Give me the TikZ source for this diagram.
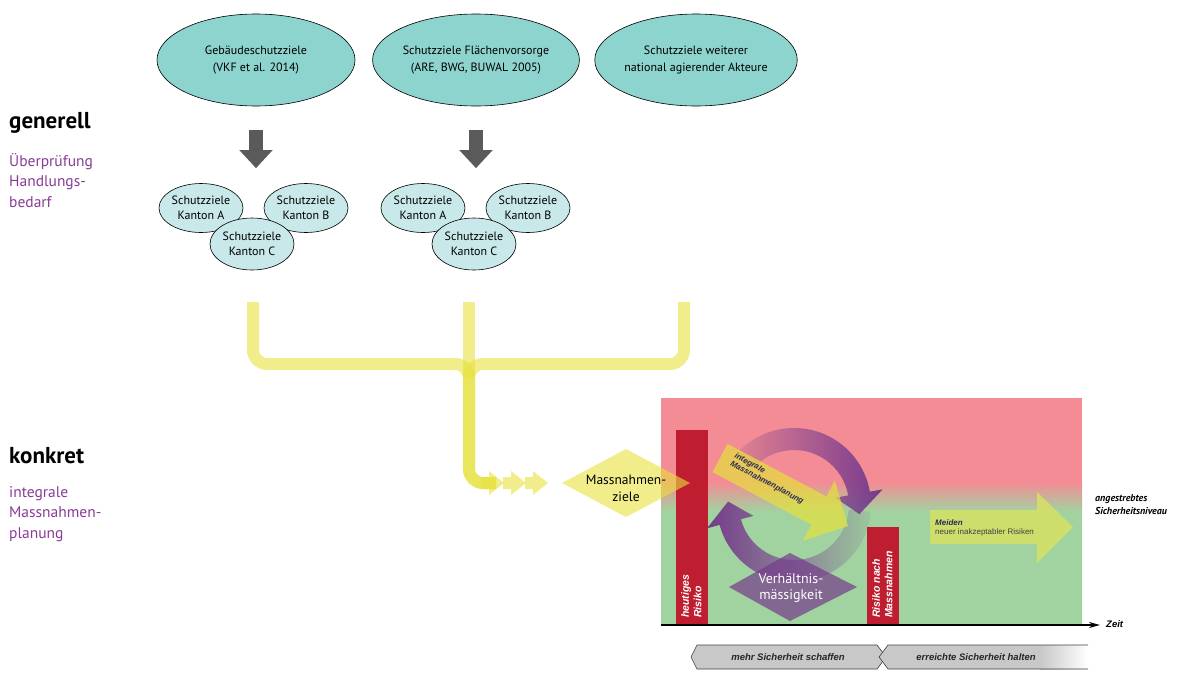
\documentclass[tikz,border=0pt]{standalone}
\usepackage{fontspec}
\setmainfont{PT Sans}
\newfontfamily\arialfont{Liberation Sans}
\usepackage{tikz}
\usetikzlibrary{shapes.geometric, arrows.meta, calc, fadings}
\definecolor{tealgoal}{RGB}{141, 211, 206}
\definecolor{kantonfill}{RGB}{200, 232, 234}
\definecolor{arrowgray}{RGB}{90,  90,  90}
\definecolor{pipeyellow}{RGB}{230, 225, 60}
\definecolor{riskpink}{RGB}{243, 140, 148}
\definecolor{safegreen}{RGB}{160, 211, 160}
\definecolor{barred}{RGB}{190, 30,  48}
\definecolor{cyclepurple}{RGB}{118, 58, 140}
\definecolor{labelpurple}{RGB}{135, 60,  150}
\definecolor{darknavy}{RGB}{40,  45,  85}
\definecolor{meidenlime}{RGB}{215, 225, 100}
\definecolor{phasegray}{RGB}{200, 200, 200}
\tikzfading[name=fadewest, left color=transparent!88, right color=transparent!0]
\tikzfading[name=fadeeast, left color=transparent!0, right color=transparent!92]

\begin{document}
\begin{tikzpicture}[x=1pt, y=1pt,
  goal/.style={ellipse, draw=black, line width=0.6pt, fill=tealgoal, minimum width=198pt,
               minimum height=92pt, inner sep=0pt, align=center, font=\fontsize{12}{17}\selectfont},
  kanton/.style={ellipse, draw=black, line width=0.6pt, fill=kantonfill, minimum width=84pt,
                 minimum height=49pt, inner sep=0pt, align=center, font=\fontsize{12}{15}\selectfont},
  downarrow/.style={line width=14pt, arrowgray, -{Triangle[width=32pt, length=18pt]}},
  pipe/.style={line width=12pt, draw=pipeyellow, draw opacity=0.6, rounded corners=14pt},
  pipefill/.style={fill=pipeyellow, fill opacity=0.6},
  headline/.style={anchor=base west, inner sep=0pt, font=\bfseries\fontsize{23}{26}\selectfont},
  subline/.style={anchor=base west, inner sep=0pt, align=left, text=labelpurple,
                  font=\fontsize{15.5}{20.5}\selectfont},
  bartext/.style={rotate=90, anchor=north west, inner sep=0pt, align=left, text=white,
                  font=\arialfont\bfseries\itshape\fontsize{10.5}{12.5}\selectfont},
  phase/.style={font=\arialfont\bfseries\itshape\fontsize{9.5}{11}\selectfont, text=black!85}
]
  \useasboundingbox (0,0) rectangle (1194,-672);

  % left column (base = last line)
  \node[headline] (gen) at (9,-128) {generell};
  \node[subline] (genT) at (9,-207) {Überprüfung\\Handlungs-\\bedarf};
  \node[headline] (konk) at (9,-463) {konkret};
  \node[subline] (konkT) at (9,-538) {integrale\\Massnahmen-\\planung};

  % national goals
  \node[goal] (geb)  at (256,-60) {Gebäudeschutzziele\\(VKF et al. 2014)};
  \node[goal] (flae) at (476,-60) {Schutzziele Flächenvorsorge\\(ARE, BWG, BUWAL 2005)};
  \node[goal] (akt)  at (696,-60) {Schutzziele weiterer\\national agierender Akteure};

  % cantonal goals
  \foreach \g/\dx in {1/0, 2/222} {
    \node[kanton] (kA\g) at (201+\dx,-208) {Schutzziele\\Kanton A};
    \node[kanton] (kB\g) at (306+\dx,-208) {Schutzziele\\Kanton B};
    \node[kanton, minimum height=52pt] (kC\g) at (252+\dx,-244) {Schutzziele\\Kanton C};
  }

  \draw[downarrow, shorten <=24pt, shorten >=15pt] (geb.south) -- (geb.south |- kA1.north);
  \draw[downarrow, shorten <=24pt, shorten >=15pt] (flae.south) -- (flae.south |- kA2.north);

  % yellow pipes
  \coordinate (p1) at (253,-302);
  \coordinate (p2) at (469,-302);
  \coordinate (p3) at (684,-302);
  \coordinate (join) at (469,-364);
  \coordinate (bend) at (469,-483);
  \coordinate (pend) at (496,-483);
  \draw[pipe] (p1) -- (p1 |- join) -- (join) -- (bend) -- (pend);
  \draw[pipe] (p3) -- (p3 |- join) -- (join) -- (bend) -- (pend);
  \draw[pipe] (p2) -- ($(join)+(0,-14)$);
  \foreach \k in {0,1,2}
    \fill[pipefill, xshift=\k*22pt] (481,-477) -- (489,-477) -- (489,-471) -- (504,-483)
      -- (489,-495) -- (489,-489) -- (481,-489) -- cycle;

  % risk chart background
  \fill[riskpink] (661,-398) rectangle (1082,-482);
  \shade[top color=riskpink, bottom color=safegreen] (661,-482) rectangle (1082,-512);
  \fill[safegreen] (661,-512) rectangle (1082,-624);

  \fill[barred] (676,-430) rectangle (708,-624);
  \fill[barred] (867,-527) rectangle (899,-624);
  \node[bartext] (heute) at (681,-618) {heutiges\\Risiko};
  \node[bartext] (nach) at (872,-618) {Risiko nach\\Massnahmen};

  % cycle
  \coordinate (cyc) at (794,-505);
  \fill[cyclepurple, path fading=fadewest, fit fading=true]
    ($(cyc)+(140:77)$) arc[start angle=140, end angle=10, radius=77]
    -- ($(cyc)+(10:90)$) -- ($(cyc)+(-8:66)$) -- ($(cyc)+(10:42)$)
    -- ($(cyc)+(10:55)$) arc[start angle=10, end angle=140, radius=55] -- cycle;
  \fill[cyclepurple, path fading=fadeeast, fit fading=true]
    ($(cyc)+(-5:77)$) arc[start angle=-5, end angle=-165, radius=77]
    -- ($(cyc)+(195:90)$) -- ($(cyc)+(177:66)$) -- ($(cyc)+(195:42)$)
    -- ($(cyc)+(195:55)$) arc[start angle=-165, end angle=-5, radius=55] -- cycle;

  % integrale Massnahmenplanung
  \begin{scope}[shift={(720,-458)}, rotate=-28, transform shape]
    \fill[pipeyellow, fill opacity=0.7] (0,16) -- (112,16) -- (112,34) -- (145,0) -- (112,-34)
      -- (112,-16) -- (0,-16) -- cycle;
    \node[anchor=north west, inner sep=0pt, align=left, text=darknavy,
          font=\arialfont\bfseries\itshape\fontsize{8}{9}\selectfont] (plan) at (12,13)
      {integrale\\Massnahmenplanung};
  \end{scope}

  \fill[cyclepurple, fill opacity=0.7] (729,-587) -- (790,-553) -- (857,-587) -- (790,-621) -- cycle;
  \node[text=white, align=center, font=\fontsize{14}{16}\selectfont] (verh) at (791,-588)
    {Verhältnis-\\mässigkeit};

  \fill[pipefill] (562,-483) -- (626,-449) -- (690,-483) -- (626,-517) -- cycle;
  \node[align=center, font=\fontsize{13.5}{17}\selectfont] (mziel) at (626,-488)
    {Massnahmen-\\ziele};

  % Meiden
  \fill[meidenlime, fill opacity=0.85] (930,-510) -- (1037,-510) -- (1037,-492) -- (1073,-527)
    -- (1037,-563) -- (1037,-544) -- (930,-544) -- cycle;
  \node[anchor=base west, inner sep=0pt, align=left, text=black!75,
        font=\arialfont\fontsize{8}{9}\selectfont] (meid) at (935,-534)
    {\textbf{\textit{\color{darknavy}Meiden}}\\neuer inakzeptabler Risiken};
  \node[anchor=base west, inner sep=0pt, align=left,
        font=\bfseries\itshape\fontsize{10}{13}\selectfont] (niveau) at (1095,-514)
    {angestrebtes\\Sicherheitsniveau};

  % time axis
  \coordinate (ax0) at (661,-625);
  \coordinate (ax1) at (1100,-625);
  \draw[line width=1.8pt, -{Stealth[length=11pt, width=6pt]}] (ax0) -- (ax1);
  \node[anchor=base west, inner sep=0pt, font=\arialfont\bfseries\itshape\fontsize{9.5}{11}\selectfont]
    (zeit) at (1106,-627) {Zeit};

  % phases
  \filldraw[fill=phasegray, draw=black!75, line width=0.6pt] (697,-645) -- (877,-645) -- (886,-657)
    -- (877,-669) -- (697,-669) -- (691,-657) -- cycle;
  \fill[phasegray] (888,-645) -- (1040,-645) -- (1040,-669) -- (888,-669) -- (879,-657) -- cycle;
  \shade[left color=phasegray, right color=white] (1040,-645) rectangle (1088,-669);
  \draw[black!75, line width=0.6pt] (1088,-645) -- (888,-645) -- (879,-657) -- (888,-669) -- (1088,-669);
  \node[phase] (mehr) at (788,-657) {mehr Sicherheit schaffen};
  \node[phase] (halt) at (976,-657) {erreichte Sicherheit halten};
\end{tikzpicture}
\end{document}
